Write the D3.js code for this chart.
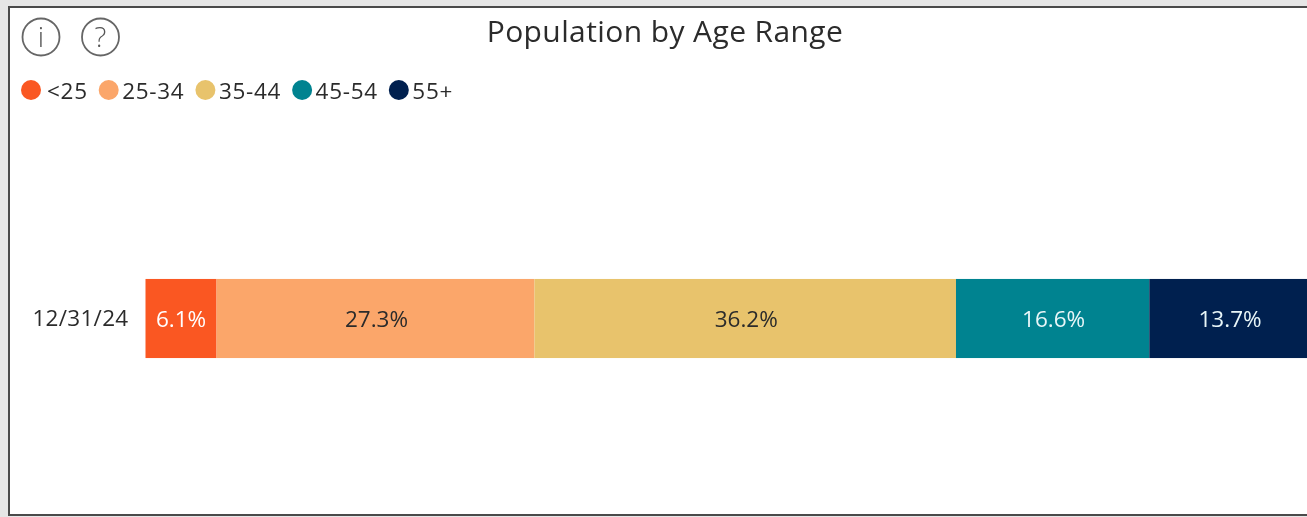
<!DOCTYPE html>
<html>
<head>
<meta charset="utf-8">
<script src="https://cdn.jsdelivr.net/npm/d3@7"></script>
<style>
  html, body { margin: 0; padding: 0; background: #e6e6e6; overflow: hidden; }
  text { font-family: "Open Sans", sans-serif; }
</style>
</head>
<body>
<div id="container"></div>
<script>
/* DATA */
const dates = ["12/31/24"]
const ageRanges = ["<25", "25-34", "35-44", "45-54", "55+"]
const shares = [6.1, 27.3, 36.2, 16.6, 13.7]
const colors = ["#fa5722", "#fba66a", "#e8c36c", "#008390", "#00204f"]
const labelColors = ["#ffffff", "#2b2b2b", "#2b2b2b", "#e8f6f8", "#e8f6f8"]

/* CONSTANTS */
const width = 1307,
  height = 517,
  margin = { top: 120, bottom: 517, left: 145.5, right: 1310 };

const svg = d3.select("#container")
  .append("svg")
  .attr("width", width)
  .attr("height", height)
  .style("display", "block")
  .style("filter", "blur(0.35px)"); // the reference is a soft screenshot

// card with the dark border, page grey shows on top and left
svg.append("rect")
  .attr("x", 9)
  .attr("y", 7)
  .attr("width", width + 20)
  .attr("height", 508)
  .attr("fill", "white")
  .attr("stroke", "#4a4a4a")
  .attr("stroke-width", 2);

/* SCALES */
const xScale = d3.scaleLinear()
  .domain([0, 100])
  .range([margin.left, margin.right]);

const yScale = d3.scaleBand()
  .domain(dates)
  .range([margin.top, margin.bottom])
  .paddingOuter(2.01);

/* STACK */
const rows = dates.map(date => {
  const row = { date }
  ageRanges.forEach((age, i) => row[age] = shares[i])
  return row
})
const series = d3.stack().keys(ageRanges)(rows)

/* BARS */
const groups = svg.selectAll("g.series")
  .data(series)
  .join("g")
  .attr("class", "series");

groups.selectAll("rect")
  .data(d => d)
  .join("rect")
  .attr("x", d => xScale(d[0]))
  .attr("y", d => yScale(d.data.date))
  .attr("width", d => xScale(d[1]) - xScale(d[0]))
  .attr("height", yScale.bandwidth())
  .attr("fill", (d, i, nodes) => colors[ageRanges.indexOf(nodes[i].parentNode.__data__.key)]);

groups.selectAll("text")
  .data(d => d.map(p => ({ ...p, key: d.key })))
  .join("text")
  .attr("x", d => (xScale(d[0]) + xScale(d[1])) / 2)
  .attr("y", d => yScale(d.data.date) + yScale.bandwidth() / 2)
  .attr("dx", d => d.key === "<25" ? 0 : 1)
  .attr("dy", "0.37em")
  .attr("text-anchor", "middle")
  .attr("font-size", 22.5)
  .attr("fill", d => labelColors[ageRanges.indexOf(d.key)])
  .text(d => d3.format(".1f")(d.data[d.key]) + "%");

/* AXIS */
const yAxis = svg.append("g")
  .attr("transform", `translate(${margin.left},0)`)
  .call(d3.axisLeft(yScale).tickSize(0).tickPadding(17));
yAxis.select(".domain").remove();
yAxis.selectAll("text")
  .attr("font-size", 22.5)
  .attr("letter-spacing", 0.3)
  .attr("fill", "#2b2b2b")
  .style("font-family", '"Open Sans", sans-serif');

/* TITLE */
svg.append("text")
  .attr("x", 665)
  .attr("y", 42)
  .attr("text-anchor", "middle")
  .attr("font-size", 30)
  .attr("letter-spacing", 0.4)
  .attr("fill", "#2b2b2b")
  .text("Population by Age Range");

/* INFO ICONS */
const icons = svg.selectAll("g.icon")
  .data(["i", "?"])
  .join("g")
  .attr("class", "icon")
  .attr("transform", (d, i) => `translate(${41 + i * 59.5},37)`);

icons.append("circle")
  .attr("r", 18.5)
  .attr("fill", "white")
  .attr("stroke", "#666666")
  .attr("stroke-width", 1.8);

icons.append("text")
  .attr("text-anchor", "middle")
  .attr("dy", "0.36em")
  .attr("font-size", 28)
  .attr("font-weight", 300)
  .attr("fill", "#555555")
  .text(d => d);

/* LEGEND - flows along like the original, dot then label */
let legendX = 21
const legendY = 91
ageRanges.forEach((age, i) => {
  const item = svg.append("g").attr("class", "legend");
  item.append("circle")
    .attr("cx", legendX + 10)
    .attr("cy", legendY - 1)
    .attr("r", 10)
    .attr("fill", colors[i]);
  const offset = i === 0 ? 26 : 23.5
  const label = item.append("text")
    .attr("x", legendX + offset)
    .attr("y", legendY)
    .attr("dy", "0.36em")
    .attr("font-size", 22.5)
    .attr("letter-spacing", 0.7)
    .attr("fill", "#2b2b2b")
    .text(age);
  legendX = legendX + offset + label.node().getComputedTextLength() + 11
});
</script>
</body>
</html>
